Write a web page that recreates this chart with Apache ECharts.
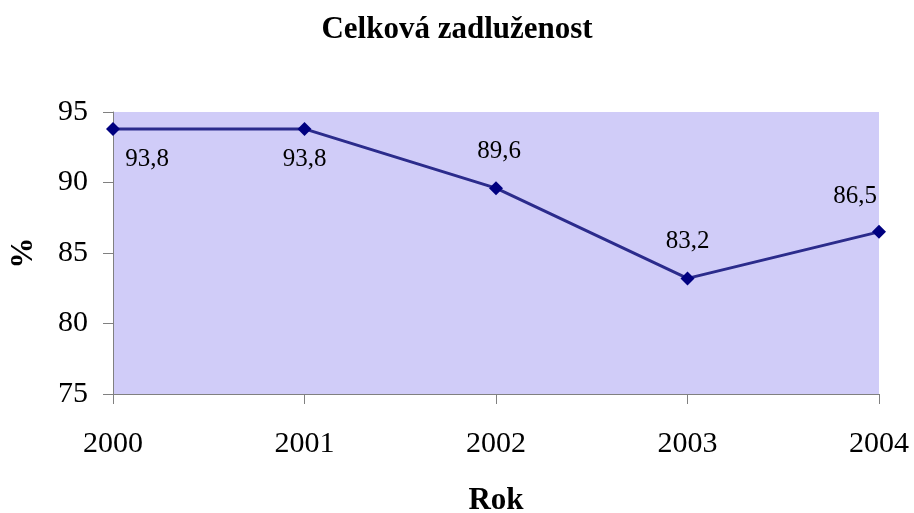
<!DOCTYPE html>
<html>
<head>
<meta charset="utf-8">
<script src="https://cdn.jsdelivr.net/npm/echarts@6/dist/echarts.min.js"></script>
<style>
	html, body { margin: 0; padding: 0; background: #fff; }
	#container { width: 914px; height: 513px; }
</style>
</head>
<body>
<div id="container"></div>
<script>
	// data
	var years = ['2000', '2001', '2002', '2003', '2004'];
	var debt = [93.8, 93.8, 89.6, 83.2, 86.5];
	// label placement per point (below / above, nudged like the original)
	var labelPos = ['bottom', 'bottom', 'top', 'top', 'top'];
	var labelShift = [[34, 6], [0, 6], [3, -12], [0, -12], [-24, -11]];

	var serif = '"Liberation Serif", "Times New Roman", serif';

	var points = debt.map(function (v, i) {
		return {
			value: v,
			label: { position: labelPos[i], offset: labelShift[i] }
		};
	});

	var option = {
		backgroundColor: '#fff',
		animation: false,
		title: {
			text: 'Celková zadluženost',
			left: 'center',
			top: 9,
			textStyle: { fontFamily: serif, fontWeight: 'bold', fontSize: 31, color: '#000' }
		},
		grid: {
			left: 113, right: 35, top: 112, bottom: 119,
			outerBoundsMode: 'none', containLabel: false,
			show: true, backgroundColor: '#d0ccf8', borderWidth: 0
		},
		xAxis: {
			type: 'category',
			data: years,
			boundaryGap: false,
			name: 'Rok',
			nameLocation: 'middle',
			nameGap: 91,
			nameTextStyle: { fontFamily: serif, fontWeight: 'bold', fontSize: 31, color: '#000' },
			axisLine: { lineStyle: { color: '#808080', width: 1 } },
			axisTick: { show: true, length: 10, lineStyle: { color: '#808080' } },
			axisLabel: { margin: 35, fontFamily: serif, fontSize: 30, color: '#000' },
			splitLine: { show: false }
		},
		yAxis: {
			type: 'value',
			min: 75,
			max: 95,
			interval: 5,
			name: '%',
			nameLocation: 'middle',
			nameGap: 74,
			nameRotate: 90,
			nameTextStyle: { fontFamily: serif, fontWeight: 'bold', fontSize: 31, color: '#000' },
			axisLine: { show: true, lineStyle: { color: '#808080', width: 1 } },
			axisTick: { show: true, length: 10, lineStyle: { color: '#808080' } },
			axisLabel: { margin: 25, fontFamily: serif, fontSize: 30, color: '#000' },
			splitLine: { show: false }
		},
		series: [
			{
				type: 'line',
				data: points,
				symbol: 'diamond',
				symbolSize: 14,
				lineStyle: { color: '#2b2b8c', width: 3 },
				itemStyle: { color: '#000080' },
				label: {
					show: true,
					fontFamily: serif,
					fontSize: 25,
					color: '#000',
					formatter: function (p) { return p.value.toFixed(1).replace('.', ','); }
				}
			}
		]
	};

	var myChart = echarts.init(document.getElementById('container'));
	myChart.setOption(option);
</script>
</body>
</html>
